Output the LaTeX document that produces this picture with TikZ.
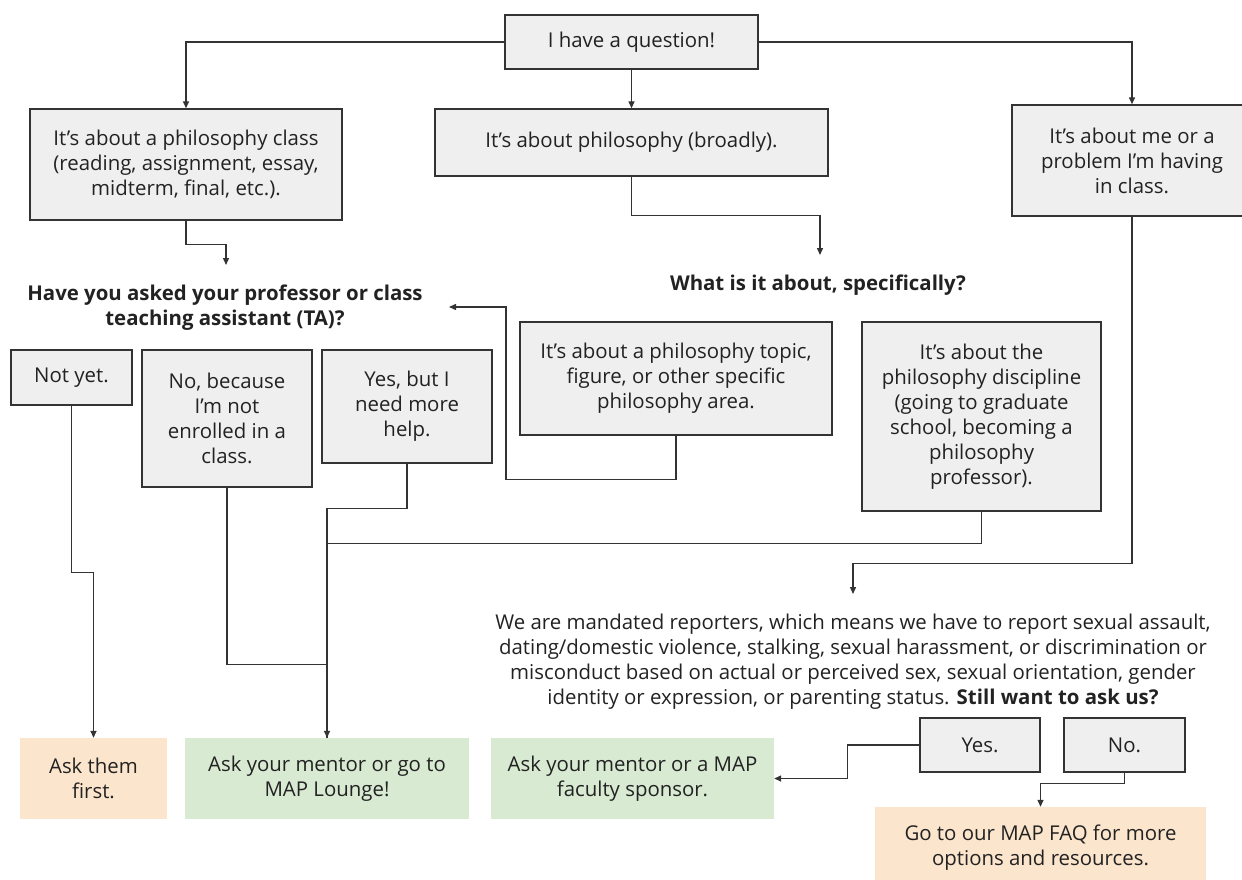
\documentclass[tikz,border=0pt]{standalone}
\usepackage{fontspec}
\setmainfont{Open Sans}
\usetikzlibrary{arrows.meta}
\definecolor{boxgray}{HTML}{EFEFEF}
\definecolor{peach}{HTML}{FCE5CD}
\definecolor{mint}{HTML}{D9EAD3}
\definecolor{ink}{HTML}{222222}
\definecolor{edge}{HTML}{333333}
\tikzset{
  base/.style={inner sep=0pt, align=center, text=ink},
  gbox/.style={base, draw=edge, line width=1.4pt, fill=boxgray},
  pbox/.style={base, fill=peach},
  mbox/.style={base, fill=mint},
  conn/.style={draw=edge, line width=1.4pt},
  arr/.style={conn, -{Triangle[length=7pt,width=6pt]}},
}
\begin{document}
\begin{tikzpicture}[x=1pt,y=-1pt,font=\fontsize{20.4}{25}\selectfont]
\useasboundingbox (0,0) rectangle (1242,880);
% boxes
\node[gbox, minimum width=253pt, minimum height=54pt] (start) at (631.5,42) {I have a question!};
\node[gbox, minimum width=312pt, minimum height=111pt] (class) at (186,164.5) {It’s about a philosophy class\\(reading, assignment, essay,\\midterm, final, etc.).};
\node[gbox, minimum width=393pt, minimum height=67pt] (broadly) at (631.5,142.5) {It’s about philosophy (broadly).};
\node[gbox, minimum width=240pt, minimum height=111pt] (me) at (1132,160.5) {It’s about me or a\\problem I’m having\\in class.};
\node[base, font=\fontsize{20.4}{25}\selectfont\bfseries] (ta) at (225,307.5) {Have you asked your professor or class\\teaching assistant (TA)?};
\node[base, font=\fontsize{20.4}{25}\selectfont\bfseries] (spec) at (818,285) {What is it about, specifically?};
\node[gbox, minimum width=121pt, minimum height=55pt] (notyet) at (71.5,377.5) {Not yet.};
\node[gbox, minimum width=170pt, minimum height=137pt] (nobecause) at (227,418.5) {No, because\\I’m not\\enrolled in a\\class.};
\node[gbox, minimum width=170pt, minimum height=113pt] (yesbut) at (407,406.5) {Yes, but I\\need more\\help.};
\node[gbox, minimum width=312pt, minimum height=113pt] (topic) at (676,378.5) {It’s about a philosophy topic,\\figure, or other specific\\philosophy area.};
\node[gbox, minimum width=239pt, minimum height=189pt] (discipline) at (981.5,416.5) {It’s about the\\philosophy discipline\\(going to graduate\\school, becoming a\\philosophy\\professor).};
\node[base] (mand) at (853,662) {We are mandated reporters, which means we have to report sexual assault,\\dating/domestic violence, stalking, sexual harassment, or discrimination or\\misconduct based on actual or perceived sex, sexual orientation, gender\\identity or expression, or parenting status. \textbf{Still want to ask us?}};
\node[gbox, minimum width=120pt, minimum height=54pt] (yes) at (980,745) {Yes.};
\node[gbox, minimum width=121pt, minimum height=54pt] (no) at (1124.5,745) {No.};
\node[pbox, minimum width=147pt, minimum height=81pt] (askfirst) at (93.5,778.5) {Ask them\\first.};
\node[mbox, minimum width=284pt, minimum height=81pt] (lounge) at (327,778.5) {Ask your mentor or go to\\MAP Lounge!};
\node[mbox, minimum width=283pt, minimum height=81pt] (sponsor) at (632.5,778.5) {Ask your mentor or a MAP\\faculty sponsor.};
\node[pbox, minimum width=331pt, minimum height=82pt] (faq) at (1040.5,848) {Go to our MAP FAQ for more\\options and resources.};
% arrow end points
\coordinate (taArr) at (226,265);
\coordinate (specArr) at (820,255);
\coordinate (taIn) at (449,307);
\coordinate (mandArr) at (853,594);
% connectors
\draw[arr] (start.west) -| (class.north);
\draw[arr] (start.south) -- (broadly.north);
\draw[arr] (start.east) -| (me.north);
\draw[arr] (class.south) -- ++(0,24) -| (taArr);
\draw[arr] (broadly.south) -- ++(0,39) -| (specArr);
\draw[arr] (topic.south) -- ++(0,44) -| ([xshift=57pt]taIn) -- (taIn);
\draw[arr] (notyet.south) -- ++(0,167) -| (askfirst.north);
\draw[conn] (nobecause.south) -- ++(0,177) -| (lounge.north);
\draw[conn] (discipline.south) -- ++(0,32) -| (lounge.north);
\draw[arr] (yesbut.south) -- ++(0,45) -| (lounge.north);
\draw[arr] (me.south) -- ++(0,347) -| (mandArr);
\draw[arr] (yes.west) -- ++(-72,0) |- (sponsor.east);
\draw[arr] (no.south) -- ++(0,11) -| (faq.north);
\end{tikzpicture}
\end{document}
